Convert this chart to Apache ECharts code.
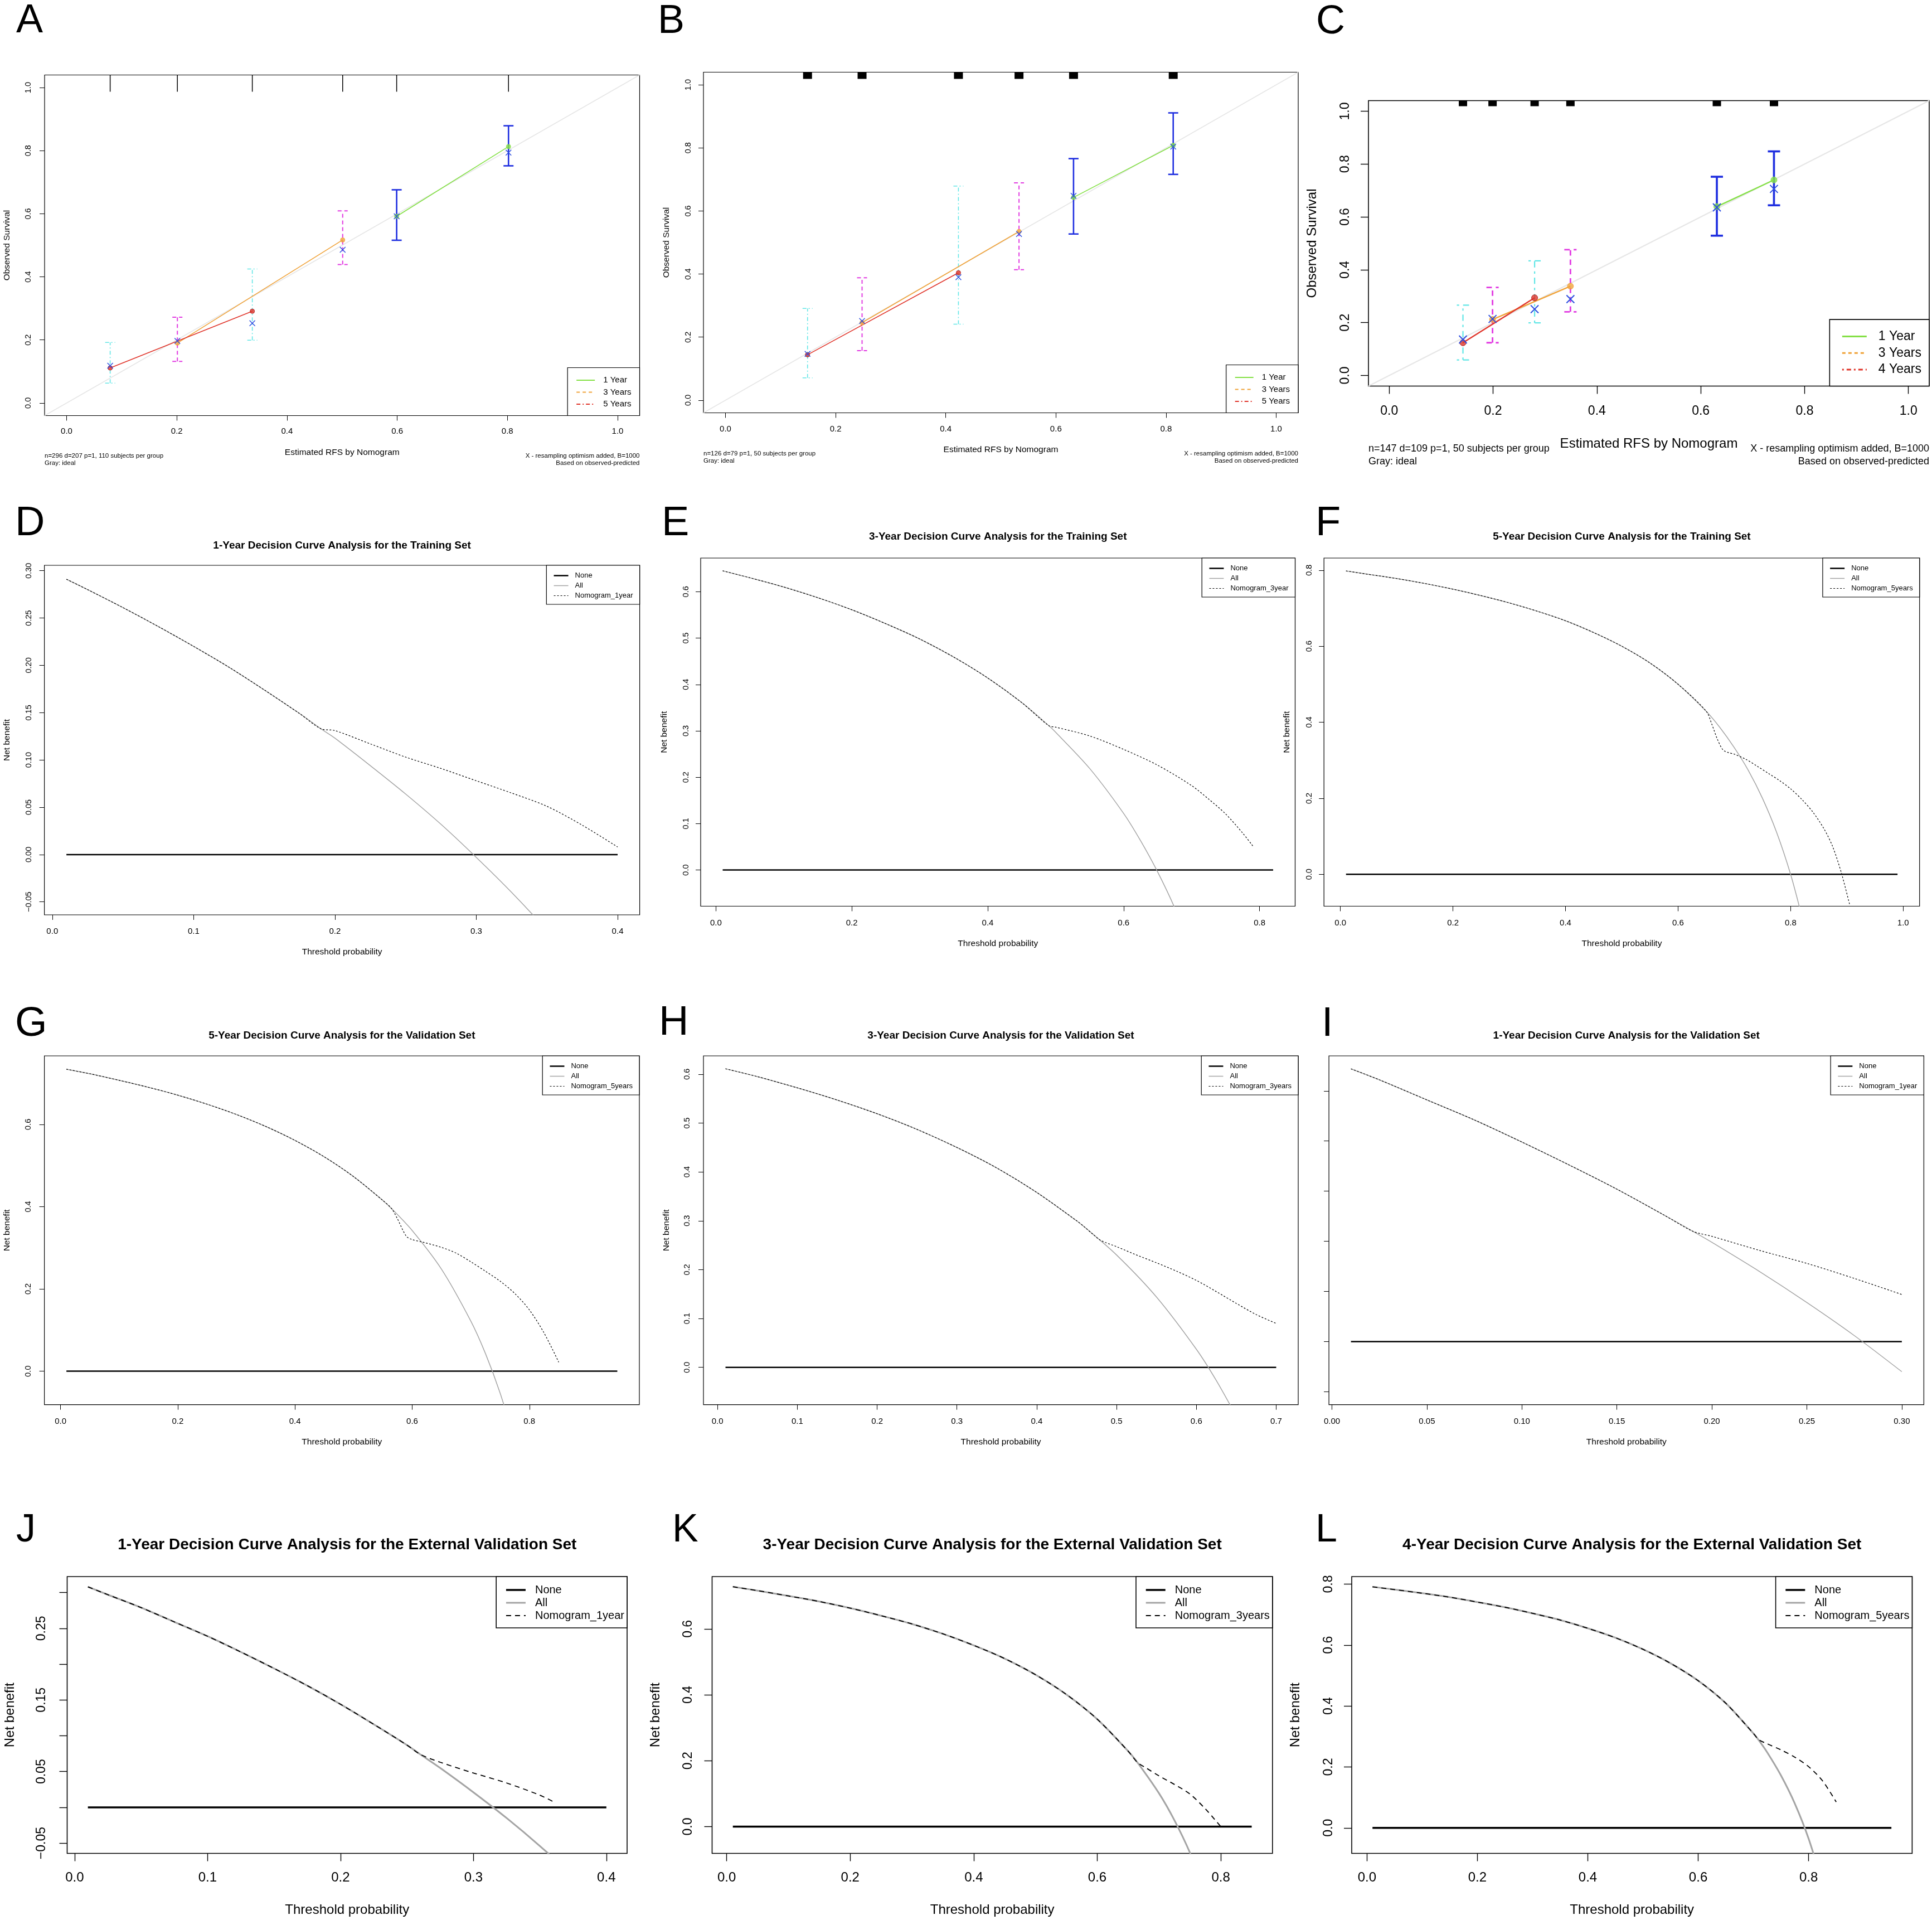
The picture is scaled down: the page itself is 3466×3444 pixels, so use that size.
<!DOCTYPE html>
<html>
<head>
<meta charset="utf-8">
<title>Calibration and decision curve analysis</title>
<script src="https://cdn.jsdelivr.net/npm/echarts@6.0.0/dist/echarts.min.js"></script>
<style>
html,body{margin:0;padding:0;background:#ffffff;}
#chart{width:3466px;height:3444px;}
</style>
</head>
<body>
<div id="chart"></div>
<script>
// ===================== DATA =====================
// ---- Calibration, panel A (training set) ----
const calA_rug = [0.079, 0.201, 0.337, 0.501, 0.599, 0.802];
const calA_1y_pred = [0.599, 0.802];
const calA_1y_obs  = [0.592, 0.813];
const calA_1y_corr = [0.592, 0.794];
const calA_1y_lo   = [0.516, 0.752];
const calA_1y_hi   = [0.676, 0.879];
const calA_3y_pred = [0.201, 0.501];
const calA_3y_obs  = [0.190, 0.517];
const calA_3y_corr = [0.197, 0.486];
const calA_3y_lo   = [0.132, 0.439];
const calA_3y_hi   = [0.272, 0.609];
const calA_5y_pred = [0.079, 0.337];
const calA_5y_obs  = [0.111, 0.291];
const calA_5y_corr = [0.118, 0.253];
const calA_5y_lo   = [0.063, 0.199];
const calA_5y_hi   = [0.192, 0.425];
// ---- Calibration, panel B (validation set) ----
const calB_rug = [0.149, 0.248, 0.423, 0.533, 0.632, 0.813];
const calB_1y_pred = [0.632, 0.813];
const calB_1y_obs  = [0.643, 0.808];
const calB_1y_corr = [0.648, 0.804];
const calB_1y_lo   = [0.527, 0.716];
const calB_1y_hi   = [0.766, 0.911];
const calB_3y_pred = [0.248, 0.533];
const calB_3y_obs  = [0.246, 0.535];
const calB_3y_corr = [0.251, 0.527];
const calB_3y_lo   = [0.157, 0.414];
const calB_3y_hi   = [0.388, 0.689];
const calB_5y_pred = [0.149, 0.423];
const calB_5y_obs  = [0.144, 0.404];
const calB_5y_corr = [0.147, 0.390];
const calB_5y_lo   = [0.071, 0.241];
const calB_5y_hi   = [0.291, 0.679];
// ---- Calibration, panel C (external validation set) ----
const calC_rug = [0.142, 0.199, 0.280, 0.349, 0.631, 0.741];
const calC_1y_pred = [0.631, 0.741];
const calC_1y_obs  = [0.639, 0.740];
const calC_1y_corr = [0.636, 0.706];
const calC_1y_lo   = [0.529, 0.644];
const calC_1y_hi   = [0.752, 0.848];
const calC_3y_pred = [0.199, 0.349];
const calC_3y_obs  = [0.212, 0.338];
const calC_3y_corr = [0.214, 0.289];
const calC_3y_lo   = [0.124, 0.241];
const calC_3y_hi   = [0.333, 0.476];
const calC_4y_pred = [0.142, 0.280];
const calC_4y_obs  = [0.124, 0.294];
const calC_4y_corr = [0.136, 0.251];
const calC_4y_lo   = [0.059, 0.199];
const calC_4y_hi   = [0.266, 0.434];
const calIdeal = [-0.04, 1.04];
const calTicks = [0, 0.2, 0.4, 0.6, 0.8, 1.0];

// ---- Decision curves ----
// D: 1-year, training
const dThr  = [0.01,0.025,0.05,0.075,0.10,0.125,0.15,0.175,0.19,0.20,0.225,0.25,0.275,0.30,0.325,0.35,0.375,0.40];
const dAll  = [0.291,0.280,0.261,0.241,0.220,0.198,0.174,0.149,0.133,0.123,0.094,0.064,0.032,-0.003,-0.040,-0.080,-0.123,-0.170];
const dNom  = [0.291,0.280,0.261,0.241,0.220,0.198,0.174,0.149,0.133,0.131,0.117,0.103,0.091,0.078,0.065,0.051,0.031,0.008];
const dNone = [0.01, 0.40];
// E: 3-year, training
const eThr    = [0.01,0.05,0.10,0.15,0.20,0.25,0.30,0.35,0.40,0.45,0.49,0.50,0.55,0.60,0.625,0.65,0.675,0.70];
const eAll    = [0.645,0.630,0.610,0.587,0.561,0.531,0.498,0.459,0.414,0.361,0.311,0.297,0.219,0.122,0.063,-0.004,-0.081,-0.171];
const eNomThr = [0.01,0.05,0.10,0.15,0.20,0.25,0.30,0.35,0.40,0.45,0.49,0.50,0.55,0.60,0.65,0.70,0.725,0.75,0.775,0.79];
const eNom    = [0.645,0.630,0.610,0.587,0.561,0.531,0.498,0.459,0.414,0.361,0.311,0.308,0.289,0.260,0.226,0.182,0.153,0.121,0.080,0.052];
const eNone = [0.01, 0.82];
// F: 5-year, training
const fThr    = [0.01,0.05,0.10,0.15,0.20,0.25,0.30,0.35,0.40,0.45,0.50,0.55,0.60,0.65,0.675,0.70,0.725,0.75,0.775,0.80,0.82];
const fAll    = [0.798,0.789,0.778,0.765,0.750,0.733,0.714,0.692,0.667,0.636,0.600,0.556,0.500,0.429,0.385,0.333,0.273,0.200,0.111,0.000,-0.111];
const fNomThr = [0.01,0.05,0.10,0.15,0.20,0.25,0.30,0.35,0.40,0.45,0.50,0.55,0.60,0.65,0.66,0.67,0.68,0.69,0.70,0.72,0.74,0.76,0.78,0.80,0.82,0.84,0.86,0.875,0.89,0.905];
const fNom    = [0.798,0.789,0.778,0.765,0.750,0.733,0.714,0.692,0.667,0.636,0.600,0.556,0.500,0.429,0.395,0.355,0.327,0.320,0.316,0.303,0.285,0.266,0.247,0.225,0.197,0.163,0.118,0.072,0.005,-0.080];
const fNone = [0.01, 0.99];
// G: 5-year, validation
const gThr    = [0.01,0.05,0.10,0.15,0.20,0.25,0.30,0.35,0.40,0.45,0.50,0.55,0.565,0.60,0.65,0.70,0.725,0.75,0.775];
const gAll    = [0.734,0.723,0.707,0.690,0.671,0.649,0.624,0.595,0.561,0.521,0.473,0.415,0.395,0.342,0.248,0.122,0.043,-0.053,-0.170];
const gNomThr = [0.01,0.05,0.10,0.15,0.20,0.25,0.30,0.35,0.40,0.45,0.50,0.55,0.565,0.575,0.59,0.60,0.62,0.65,0.675,0.70,0.725,0.75,0.775,0.80,0.825,0.85];
const gNom    = [0.734,0.723,0.707,0.690,0.671,0.649,0.624,0.595,0.561,0.521,0.473,0.415,0.395,0.370,0.328,0.320,0.313,0.301,0.287,0.266,0.243,0.219,0.189,0.149,0.093,0.022];
const gNone = [0.01, 0.95];
// H: 3-year, validation
const hThr    = [0.01,0.05,0.10,0.15,0.20,0.25,0.30,0.35,0.40,0.45,0.46,0.50,0.55,0.60,0.625,0.65];
const hAll    = [0.611,0.595,0.572,0.547,0.519,0.487,0.450,0.408,0.358,0.300,0.287,0.230,0.144,0.037,-0.027,-0.100];
const hNomThr = [0.01,0.05,0.10,0.15,0.20,0.25,0.30,0.35,0.40,0.45,0.46,0.47,0.48,0.50,0.525,0.55,0.575,0.60,0.625,0.65,0.675,0.70];
const hNom    = [0.611,0.595,0.572,0.547,0.519,0.487,0.450,0.408,0.358,0.300,0.287,0.273,0.260,0.247,0.230,0.214,0.197,0.178,0.155,0.131,0.108,0.090];
const hNone = [0.01, 0.70];
// I: 1-year, validation
const iThr  = [0.01,0.025,0.05,0.075,0.10,0.125,0.15,0.175,0.19,0.20,0.225,0.25,0.275,0.30];
const iAll  = [0.272,0.261,0.241,0.221,0.199,0.176,0.152,0.126,0.110,0.099,0.070,0.039,0.006,-0.030];
const iNom  = [0.272,0.261,0.241,0.221,0.199,0.176,0.152,0.126,0.110,0.105,0.091,0.078,0.063,0.047];
const iNone = [0.01, 0.30];
// J: 1-year, external validation
const jThr    = [0.01,0.025,0.05,0.075,0.10,0.125,0.15,0.175,0.20,0.225,0.25,0.26,0.275,0.30,0.325,0.35,0.375,0.40];
const jAll    = [0.308,0.297,0.279,0.259,0.239,0.217,0.194,0.170,0.144,0.116,0.087,0.074,0.055,0.021,-0.015,-0.054,-0.096,-0.142];
const jNomThr = [0.01,0.025,0.05,0.075,0.10,0.125,0.15,0.175,0.20,0.225,0.25,0.26,0.275,0.30,0.325,0.35,0.36];
const jNom    = [0.308,0.297,0.279,0.259,0.239,0.217,0.194,0.170,0.144,0.116,0.087,0.074,0.063,0.048,0.034,0.017,0.008];
const jNone = [0.01, 0.40];
// K: 3-year, external validation
const kThr    = [0.01,0.05,0.10,0.15,0.20,0.25,0.30,0.35,0.40,0.45,0.50,0.55,0.60,0.65,0.665,0.70,0.725,0.75,0.775];
const kAll    = [0.728,0.716,0.700,0.683,0.663,0.640,0.615,0.585,0.550,0.510,0.461,0.401,0.326,0.229,0.195,0.101,0.019,-0.079,-0.199];
const kNomThr = [0.01,0.05,0.10,0.15,0.20,0.25,0.30,0.35,0.40,0.45,0.50,0.55,0.60,0.65,0.665,0.68,0.70,0.725,0.75,0.775,0.79,0.80];
const kNom    = [0.728,0.716,0.700,0.683,0.663,0.640,0.615,0.585,0.550,0.510,0.461,0.401,0.326,0.229,0.195,0.177,0.154,0.128,0.099,0.054,0.022,0.000];
const kNone = [0.01, 0.85];
// L: 4-year, external validation
const lThr    = [0.01,0.05,0.10,0.15,0.20,0.25,0.30,0.35,0.40,0.45,0.50,0.55,0.60,0.65,0.70,0.71,0.725,0.75,0.775,0.80,0.825];
const lAll    = [0.791,0.782,0.770,0.757,0.741,0.724,0.704,0.682,0.655,0.624,0.586,0.540,0.483,0.409,0.310,0.287,0.248,0.172,0.080,-0.035,-0.182];
const lNomThr = [0.01,0.05,0.10,0.15,0.20,0.25,0.30,0.35,0.40,0.45,0.50,0.55,0.60,0.65,0.70,0.71,0.725,0.75,0.775,0.80,0.825,0.85];
const lNom    = [0.791,0.782,0.770,0.757,0.741,0.724,0.704,0.682,0.655,0.624,0.586,0.540,0.483,0.409,0.310,0.289,0.276,0.256,0.232,0.201,0.155,0.085];
const lNone = [0.01, 0.95];

// ===================== STYLE / LAYOUT =====================
const W = 3466, H = 3444;
const FONT = "'Liberation Sans', Arial, Helvetica, sans-serif";
const GREEN = '#84e046', ORANGE = '#f0a33a', RED = '#e0352b';
const BLUE = '#1f2fe0', MAGENTA = '#e23ce2', CYAN = '#62e6e6', XBLUE = '#2a4de0';
const ALLGRAY = '#a4a4a4';
const HIDDEN_SYMBOL = {color:'rgba(0,0,0,0)', borderColor:'rgba(0,0,0,0)', borderWidth:0, opacity:0};

const CAL_SMALL = {border:1.2, tickLen:9, tickW:1, xTickFont:15, yTickFont:14.5, nameFont:15.5, idealW:1.5, lineW:1.6,
  cap:9, xHalf:5, xW:1.4, pt:8, barScale:1, legIconW:33, legItemH:15, legGap:6.5, legPad:[15,15,13,15], legTextPad:10, legFont:15, legLineW:2, noteFont:11.5};
const CAL_BIG = {border:1.6, tickLen:14, tickW:1.4, xTickFont:23, yTickFont:23, nameFont:24, idealW:2, lineW:2.4,
  cap:11, xHalf:7, xW:2, pt:11, barScale:1.4, legIconW:44, legItemH:23, legGap:6.7, legPad:[19,14,18,21], legTextPad:16, legFont:23, legLineW:3, noteFont:18};
const DCA_SMALL = {border:1.2, tickLen:9, tickW:1, xTickFont:15, yTickFont:14.5, nameFont:15.5, noneW:2.5, allW:1.5, nomW:1.2, nomDash:[3,3],
  legIconW:26, legItemH:13, legGap:5, legPad:[12,12,9,12], legTextPad:7, legFont:13, titleFont:19, letterFont:74};
const DCA_BIG = {border:1.6, tickLen:14, tickW:1.4, xTickFont:24, yTickFont:23, nameFont:24, noneW:3.5, allW:3, nomW:1.8, nomDash:[9,7],
  legIconW:35, legItemH:20, legGap:3, legPad:[14,5,12,16], legTextPad:12, legFont:20, titleFont:28, letterFont:70};

const option = {
  animation:false, backgroundColor:'#ffffff', textStyle:{fontFamily:FONT},
  grid:[], xAxis:[], yAxis:[], series:[], legend:[], graphic:[]
};

function fmt(v, dec){ const s = Math.abs(v).toFixed(dec); return (v < -1e-9 ? '\u2212' : '') + s; }

function txt(x, y, text, size, opts){
  opts = opts || {};
  const al = opts.align || 'left';
  option.graphic.push({type:'text', x:x, y:y, silent:true, z:100,
    style:{text:text, fontSize:size, fontFamily:FONT, fontWeight:opts.bold ? 'bold' : 'normal', fill:'#000',
      align:al, verticalAlign:'middle', textAlign:al, textVerticalAlign:'middle'}});
}

function mkAxis(kind, gi, range, ticks, labels, dec, s, m, name){
  const isY = kind === 'y';
  const ax = {
    type:'value', gridIndex:gi, min:range[0], max:range[1], position: isY ? 'left' : 'bottom',
    axisLine:{show:false, onZero:false},
    axisTick:{show:true, inside:false, length:s.tickLen, customValues:ticks, lineStyle:{color:'#000', width:s.tickW}},
    axisLabel:{show: labels.length > 0, margin: isY ? m.ym : m.xm, rotate: isY ? 90 : 0,
      fontSize: isY ? s.yTickFont : s.xTickFont, fontFamily:FONT, color:'#000', formatter: v => fmt(v, dec)},
    splitLine:{show:false}, splitArea:{show:false}
  };
  if (labels.length > 0) ax.axisLabel.customValues = labels;
  if (name){
    ax.name = name; ax.nameLocation = 'middle'; ax.nameGap = isY ? m.yg : m.xg;
    ax.nameTextStyle = {fontSize:s.nameFont, fontFamily:FONT, color:'#000'};
  }
  return ax;
}

function addGrid(box, border){
  option.grid.push({left:box[0], top:box[1], width:box[2]-box[0], height:box[3]-box[1], show:true,
    borderColor:'#000', borderWidth:border, backgroundColor:'rgba(0,0,0,0)', containLabel:false});
  return option.grid.length - 1;
}

function legendBase(s){
  return {orient:'vertical', itemWidth:s.legIconW, itemHeight:s.legItemH, itemGap:s.legGap, padding:s.legPad,
    borderColor:'#000', borderWidth:s.border, borderRadius:0, backgroundColor:'#ffffff', selectedMode:false,
    textStyle:{fontSize:s.legFont, fontFamily:FONT, color:'#000', padding:[0,0,0,s.legTextPad]}};
}

// ---------- calibration panel ----------
function calPanel(p){
  const s = p.big ? CAL_BIG : CAL_SMALL;
  const gi = addGrid(p.box, s.border);
  option.xAxis.push(mkAxis('x', gi, [-0.04, 1.04], calTicks, calTicks, 1, s, p.m, 'Estimated RFS by Nomogram'));
  option.yAxis.push(mkAxis('y', gi, [-0.04, 1.04], calTicks, calTicks, 1, s, p.m, 'Observed Survival'));
  option.series.push({type:'line', name:'ideal', xAxisIndex:gi, yAxisIndex:gi, silent:true, z:1,
    data: calIdeal.map(v => [v, v]), symbol:'none', lineStyle:{color:'#e6e6e6', width:s.idealW}});
  // spike histogram of predictions along the top edge
  option.series.push({type:'custom', xAxisIndex:gi, yAxisIndex:gi, silent:true, z:5,
    data: p.rug.map(x => [x, 0]), encode:{x:0, y:1},
    renderItem: (params, api) => {
      const cs = params.coordSys;
      const px = api.coord([api.value(0), 0])[0];
      return {type:'rect', shape:{x:px - p.rugW/2, y:cs.y, width:p.rugW, height:p.rugH}, style:{fill:'#000'}};
    }});
  p.groups.forEach(g => {
    const bw = g.barW * s.barScale;
    const dash = g.barDash ? g.barDash.map(d => d * s.barScale) : null;
    option.series.push({type:'custom', xAxisIndex:gi, yAxisIndex:gi, silent:true, z:6,
      data: g.pred.map((x, i) => [x, g.lo[i], g.hi[i]]), encode:{x:0, y:[1, 2]},
      renderItem: (params, api) => {
        const a = api.coord([api.value(0), api.value(1)]);
        const b = api.coord([api.value(0), api.value(2)]);
        const st = {stroke:g.bar, lineWidth:bw, lineDash:dash, fill:null};
        return {type:'group', children:[
          {type:'line', shape:{x1:a[0], y1:a[1], x2:b[0], y2:b[1]}, style:st},
          {type:'line', shape:{x1:a[0]-s.cap, y1:a[1], x2:a[0]+s.cap, y2:a[1]}, style:st},
          {type:'line', shape:{x1:b[0]-s.cap, y1:b[1], x2:b[0]+s.cap, y2:b[1]}, style:st}
        ]};
      }});
    option.series.push({type:'line', name:g.name, xAxisIndex:gi, yAxisIndex:gi, z:7,
      data: g.pred.map((x, i) => [x, g.obs[i]]), symbol:'none', showSymbol:false,
      lineStyle:{color:g.color, width:s.lineW}, itemStyle:{color:g.color}});
    option.series.push({type:'scatter', name:g.name + ' observed', xAxisIndex:gi, yAxisIndex:gi, z:8, silent:true,
      data: g.pred.map((x, i) => [x, g.obs[i]]), symbol:'circle', symbolSize:s.pt,
      itemStyle:{color:g.color, borderColor:g.color === RED ? '#a01010' : g.color, borderWidth:1}});
    option.series.push({type:'custom', xAxisIndex:gi, yAxisIndex:gi, silent:true, z:9,
      data: g.pred.map((x, i) => [x, g.corr[i]]), encode:{x:0, y:1},
      renderItem: (params, api) => {
        const c = api.coord([api.value(0), api.value(1)]); const h = s.xHalf;
        const st = {stroke:XBLUE, lineWidth:s.xW};
        return {type:'group', children:[
          {type:'line', shape:{x1:c[0]-h, y1:c[1]-h, x2:c[0]+h, y2:c[1]+h}, style:st},
          {type:'line', shape:{x1:c[0]-h, y1:c[1]+h, x2:c[0]+h, y2:c[1]-h}, style:st}
        ]};
      }});
  });
  const lg = legendBase(s);
  lg.right = W - p.box[2]; lg.bottom = H - p.box[3];
  lg.data = p.groups.map(g => ({name:g.name, lineStyle:{color:g.color, width:s.legLineW, type:g.legDash}, itemStyle:HIDDEN_SYMBOL}));
  option.legend.push(lg);
  txt(p.letter[0], p.letter[1], p.id, p.letter[2]);
  txt(p.box[0], p.notesY[0], p.noteL[0], s.noteFont);
  txt(p.box[0], p.notesY[1], p.noteL[1], s.noteFont);
  txt(p.box[2], p.notesY[0], 'X - resampling optimism added, B=1000', s.noteFont, {align:'right'});
  txt(p.box[2], p.notesY[1], 'Based on observed-predicted', s.noteFont, {align:'right'});
}

function grp(name, color, legDash, pred, obs, corr, lo, hi, bar, barDash, barW){
  return {name, color, legDash, pred, obs, corr, lo, hi, bar, barDash, barW};
}

calPanel({id:'A', box:[80,134.5,1147.5,745.5], big:false, letter:[29,38,72], rug:calA_rug, rugW:1.5, rugH:30,
  m:{xm:21, ym:21.5, xg:58.7, yg:58.8}, notesY:[817.4,831], noteL:['n=296 d=207 p=1, 110 subjects per group','Gray: ideal'],
  groups:[
    grp('1 Year', GREEN, 'solid', calA_1y_pred, calA_1y_obs, calA_1y_corr, calA_1y_lo, calA_1y_hi, BLUE, null, 2.6),
    grp('3 Years', ORANGE, [6,5], calA_3y_pred, calA_3y_obs, calA_3y_corr, calA_3y_lo, calA_3y_hi, MAGENTA, [7,5], 2),
    grp('5 Years', RED, [7,4,2,4], calA_5y_pred, calA_5y_obs, calA_5y_corr, calA_5y_lo, calA_5y_hi, CYAN, [7,4,2,4], 1.6)
  ]});
calPanel({id:'B', box:[1262,129.5,2329,740.5], big:false, letter:[1180,39.5,72], rug:calB_rug, rugW:16, rugH:12,
  m:{xm:22, ym:20, xg:58, yg:58.5}, notesY:[813.5,826.6], noteL:['n=126 d=79 p=1, 50 subjects per group','Gray: ideal'],
  groups:[
    grp('1 Year', GREEN, 'solid', calB_1y_pred, calB_1y_obs, calB_1y_corr, calB_1y_lo, calB_1y_hi, BLUE, null, 2.6),
    grp('3 Years', ORANGE, [6,5], calB_3y_pred, calB_3y_obs, calB_3y_corr, calB_3y_lo, calB_3y_hi, MAGENTA, [7,5], 2),
    grp('5 Years', RED, [7,4,2,4], calB_5y_pred, calB_5y_obs, calB_5y_corr, calB_5y_lo, calB_5y_hi, CYAN, [7,4,2,4], 1.6)
  ]});
calPanel({id:'C', box:[2455,180.5,3461,692.5], big:true, letter:[2361,40.5,72], rug:calC_rug, rugW:15, rugH:10,
  m:{xm:34, ym:30, xg:92, yg:88.5}, notesY:[805.4,828.2], noteL:['n=147 d=109 p=1, 50 subjects per group','Gray: ideal'],
  groups:[
    grp('1 Year', GREEN, 'solid', calC_1y_pred, calC_1y_obs, calC_1y_corr, calC_1y_lo, calC_1y_hi, BLUE, null, 2.6),
    grp('3 Years', ORANGE, [6,5], calC_3y_pred, calC_3y_obs, calC_3y_corr, calC_3y_lo, calC_3y_hi, MAGENTA, [7,5], 2),
    grp('4 Years', RED, [3,5,8,5], calC_4y_pred, calC_4y_obs, calC_4y_corr, calC_4y_lo, calC_4y_hi, CYAN, [3,5,8,5], 1.6)
  ]});

// ---------- decision curve panel ----------
function dcaPanel(p){
  const s = p.big ? DCA_BIG : DCA_SMALL;
  const gi = addGrid(p.box, s.border);
  option.xAxis.push(mkAxis('x', gi, p.x, p.xt, p.xt, p.xd, s, p.m, 'Threshold probability'));
  option.yAxis.push(mkAxis('y', gi, p.y, p.yt, p.yl, p.yd, s, p.m, p.noYName ? null : 'Net benefit'));
  option.series.push({type:'line', name:'None', xAxisIndex:gi, yAxisIndex:gi, z:3,
    data: p.none.map(t => [t, 0]), symbol:'none', showSymbol:false,
    lineStyle:{color:'#000', width:s.noneW}, itemStyle:{color:'#000'}});
  option.series.push({type:'line', name:'All', xAxisIndex:gi, yAxisIndex:gi, z:4, smooth:0.3,
    data: p.thr.map((t, i) => [t, p.all[i]]), symbol:'none', showSymbol:false, clip:true,
    lineStyle:{color:ALLGRAY, width:s.allW}, itemStyle:{color:ALLGRAY}});
  option.series.push({type:'line', name:p.nomName, xAxisIndex:gi, yAxisIndex:gi, z:5, smooth:0.3,
    data: p.nomThr.map((t, i) => [t, p.nom[i]]), symbol:'none', showSymbol:false, clip:true,
    lineStyle:{color:'#000', width:s.nomW, type:s.nomDash}, itemStyle:{color:'#000'}});
  const lg = legendBase(s);
  lg.right = W - p.box[2]; lg.top = p.box[1];
  lg.data = [
    {name:'None', lineStyle:{color:'#000', width:s.noneW, type:'solid'}, itemStyle:HIDDEN_SYMBOL},
    {name:'All', lineStyle:{color:ALLGRAY, width:s.allW, type:'solid'}, itemStyle:HIDDEN_SYMBOL},
    {name:p.nomName, lineStyle:{color:'#000', width:s.nomW, type:s.nomDash}, itemStyle:HIDDEN_SYMBOL}
  ];
  option.legend.push(lg);
  txt(p.letter[0], p.letter[1], p.id, s.letterFont);
  txt((p.box[0] + p.box[2]) / 2, p.titleY, p.title, s.titleFont, {bold:true, align:'center'});
}

const T01 = [0, 0.1, 0.2, 0.3, 0.4];
const T02_08 = [0, 0.2, 0.4, 0.6, 0.8];
const T02_10 = [0, 0.2, 0.4, 0.6, 0.8, 1.0];
const T01_07 = [0, 0.1, 0.2, 0.3, 0.4, 0.5, 0.6, 0.7];
const T005_03 = [0, 0.05, 0.10, 0.15, 0.20, 0.25, 0.30];
const Y005_030 = [-0.05, 0, 0.05, 0.10, 0.15, 0.20, 0.25, 0.30];
const Y005_025 = [-0.05, 0, 0.05, 0.10, 0.15, 0.20, 0.25];
const Y01_06 = [0, 0.1, 0.2, 0.3, 0.4, 0.5, 0.6];
const Y02_06 = [0, 0.2, 0.4, 0.6];
const Y02_08 = [0, 0.2, 0.4, 0.6, 0.8];

dcaPanel({id:'D', title:'1-Year Decision Curve Analysis for the Training Set', big:false,
  box:[79.6,1014,1147.6,1641], x:[-0.0056,0.4156], y:[-0.0637,0.3057], xt:T01, xd:1, yt:Y005_030, yl:Y005_030, yd:2,
  thr:dThr, all:dAll, nomThr:dThr, nom:dNom, none:dNone, nomName:'Nomogram_1year',
  letter:[27,940], titleY:978.5, m:{xm:22, ym:20, xg:59, yg:58.5}});
dcaPanel({id:'E', title:'3-Year Decision Curve Analysis for the Training Set', big:false,
  box:[1257,1001,2323.5,1625.5], x:[-0.0224,0.8524], y:[-0.078,0.6725], xt:T02_08, xd:1, yt:Y01_06, yl:Y01_06, yd:1,
  thr:eThr, all:eAll, nomThr:eNomThr, nom:eNom, none:eNone, nomName:'Nomogram_3year',
  letter:[1187,940], titleY:963, m:{xm:22.4, ym:18.6, xg:59.7, yg:57.7}});
dcaPanel({id:'F', title:'5-Year Decision Curve Analysis for the Training Set', big:false,
  box:[2375.2,1001,3443.7,1625.5], x:[-0.0292,1.0292], y:[-0.0839,0.8319], xt:T02_10, xd:1, yt:Y02_08, yl:Y02_08, yd:1,
  thr:fThr, all:fAll, nomThr:fNomThr, nom:fNom, none:fNone, nomName:'Nomogram_5years',
  letter:[2360,940], titleY:963, m:{xm:22.4, ym:19.2, xg:59.7, yg:58}});
dcaPanel({id:'G', title:'5-Year Decision Curve Analysis for the Validation Set', big:false,
  box:[79.6,1894,1147,2519.7], x:[-0.0276,0.9876], y:[-0.0814,0.7664], xt:T02_08, xd:1, yt:Y02_06, yl:Y02_06, yd:1,
  thr:gThr, all:gAll, nomThr:gNomThr, nom:gNom, none:gNone, nomName:'Nomogram_5years',
  letter:[27,1838], titleY:1858, m:{xm:22.3, ym:21.5, xg:59.5, yg:58.4}});
dcaPanel({id:'H', title:'3-Year Decision Curve Analysis for the Validation Set', big:false,
  box:[1262,1894,2329,2519.7], x:[-0.0176,0.7276], y:[-0.0764,0.6374], xt:T01_07, xd:1, yt:Y01_06, yl:Y01_06, yd:1,
  thr:hThr, all:hAll, nomThr:hNomThr, nom:hNom, none:hNone, nomName:'Nomogram_3years',
  letter:[1182,1836], titleY:1858, m:{xm:22.3, ym:21.5, xg:59.5, yg:58.4}});
dcaPanel({id:'I', title:'1-Year Decision Curve Analysis for the Validation Set', big:false,
  box:[2384.1,1894,3451.4,2519.7], x:[-0.0016,0.3116], y:[-0.0629,0.2849], xt:T005_03, xd:2, yt:Y005_025, yl:[], yd:2,
  thr:iThr, all:iAll, nomThr:iThr, nom:iNom, none:iNone, nomName:'Nomogram_1year', noYName:true,
  letter:[2371,1838], titleY:1858, m:{xm:22.3, ym:20, xg:59.5, yg:58}});
dcaPanel({id:'J', title:'1-Year Decision Curve Analysis for the External Validation Set', big:true,
  box:[120.5,2828,1125,3324.5], x:[-0.0056,0.4156], y:[-0.0643,0.3223], xt:T01, xd:1, yt:Y005_030, yl:[-0.05,0.05,0.15,0.25], yd:2,
  thr:jThr, all:jAll, nomThr:jNomThr, nom:jNom, none:jNone, nomName:'Nomogram_1year',
  letter:[29,2746], titleY:2771.6, m:{xm:31.5, ym:34.6, xg:90.3, yg:89.9}});
dcaPanel({id:'K', title:'3-Year Decision Curve Analysis for the External Validation Set', big:true,
  box:[1277.5,2828,2282.8,3324.5], x:[-0.0236,0.8836], y:[-0.0811,0.7587], xt:T02_08, xd:1, yt:Y02_06, yl:Y02_06, yd:1,
  thr:kThr, all:kAll, nomThr:kNomThr, nom:kNom, none:kNone, nomName:'Nomogram_3years',
  letter:[1206,2746], titleY:2771.6, m:{xm:31.5, ym:31.6, xg:90.3, yg:89}});
dcaPanel({id:'L', title:'4-Year Decision Curve Analysis for the External Validation Set', big:true,
  box:[2425,2828,3430.4,3324.5], x:[-0.0276,0.9876], y:[-0.0836,0.8246], xt:T02_08, xd:1, yt:Y02_08, yl:Y02_08, yd:1,
  thr:lThr, all:lAll, nomThr:lNomThr, nom:lNom, none:lNone, nomName:'Nomogram_5years',
  letter:[2360,2746], titleY:2771.6, m:{xm:31.5, ym:29.5, xg:90.3, yg:88.2}});

const chart = echarts.init(document.getElementById('chart'), null, {renderer:'canvas', width:W, height:H});
chart.setOption(option);
</script>
</body>
</html>
